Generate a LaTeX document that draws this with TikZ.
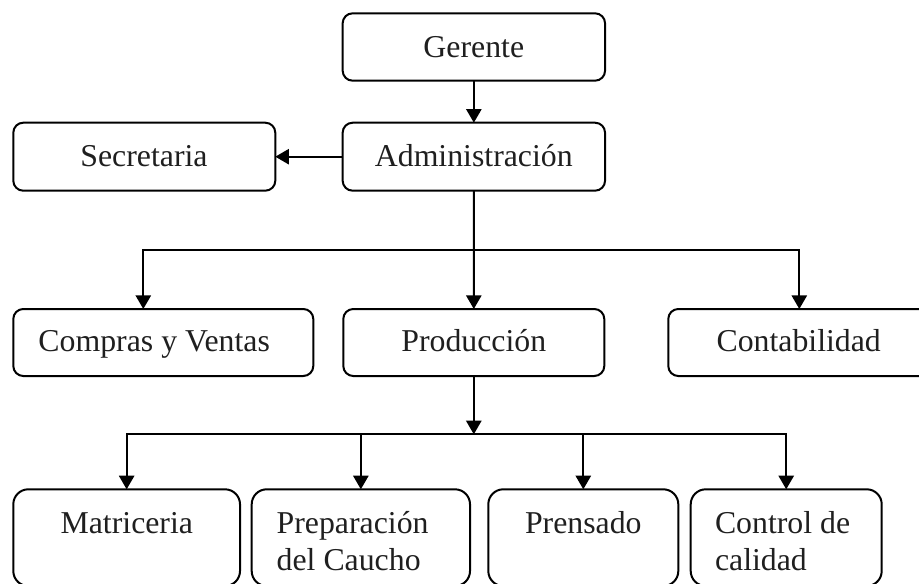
\documentclass[tikz,border=0pt]{standalone}
\usepackage{fontspec}
\setmainfont{Liberation Serif}
\usetikzlibrary{arrows.meta}
\begin{document}
\begin{tikzpicture}[x=0.5pt,y=-0.5pt,
  box/.style={draw=black,line width=1pt,rounded corners=5pt,inner sep=0pt,outer sep=0pt,minimum height=#1},
  box/.default=33.7pt,
  bigbox/.style={draw=black,line width=1pt,rounded corners=7.5pt,inner sep=0pt,outer sep=0pt,minimum height=48.35pt},
  lbl/.style={inner sep=0pt,outer sep=0pt,font=\fontsize{15.9pt}{18.4pt}\selectfont,text=black!88},
  conn/.style={line width=1pt,draw=black},
  arr/.style={conn,-{Triangle[length=6.8pt,width=7.6pt]}}
]
\clip (0,0) rectangle (919,583);
% boxes
\node[box,minimum width=131.2pt] (ger) at (473.85,47) {};
\node[box=34pt,minimum width=131.2pt] (adm) at (473.85,156.7) {};
\node[box=34pt,minimum width=131pt] (sec) at (144.3,156.7) {};
\node[box=33.5pt,minimum width=150pt] (com) at (163.3,342.5) {};
\node[box=33.5pt,minimum width=130.5pt] (pro) at (473.8,342.5) {};
\node[box=33.5pt,minimum width=131pt] (con) at (799.3,342.5) {};
\node[bigbox,minimum width=113.35pt] (mat) at (126.65,537.65) {};
\node[bigbox,minimum width=109.15pt] (pre) at (360.85,537.65) {};
\node[bigbox,minimum width=95pt] (pren) at (583.3,537.65) {};
\node[bigbox,minimum width=95.5pt] (ctl) at (786.2,537.65) {};
% labels
\node[lbl,anchor=base] (tger) at (473.8,57.3) {Gerente};
\node[lbl,anchor=base] (tadm) at (473.8,166) {Administración};
\node[lbl,anchor=base] (tsec) at (144,166) {Secretaria};
\node[lbl,anchor=base] (tcom) at (154.2,351.7) {Compras y Ventas};
\node[lbl,anchor=base] (tpro) at (473.8,351.7) {Producción};
\node[lbl,anchor=base] (tcon) at (798.7,351.7) {Contabilidad};
\node[lbl,anchor=base] (tmat) at (126.8,533) {Matriceria};
\node[lbl,anchor=base west,align=left] (tpre) at (276.7,570) {Preparación\\del Caucho};
\node[lbl,anchor=base] (tpren) at (583.3,533) {Prensado};
\node[lbl,anchor=base west,align=left] (tctl) at (715,570) {Control de\\calidad};
% bus coordinates
\coordinate (bus1) at (adm.south |- 0,250);
\coordinate (bus2) at (pro.south |- 0,434.3);
% connectors
\draw[arr] (ger.south) -- (adm.north);
\draw[arr] (adm.west) -- (sec.east);
\draw[arr] (adm.south) -- (pro.north);
\draw[arr] (bus1) -- (143.3,250) coordinate (bc) -- (bc |- com.north);
\draw[arr] (bus1) -- (799.3,250) coordinate (bk) -- (bk |- con.north);
\draw[arr] (pro.south) -- (bus2);
\draw[arr] (bus2) -- (mat.north |- bus2) -- (mat.north);
\draw[arr] (bus2) -- (ctl.north |- bus2) -- (ctl.north);
\draw[arr] (pre.north |- bus2) -- (pre.north);
\draw[arr] (pren.north |- bus2) -- (pren.north);
\end{tikzpicture}
\end{document}
